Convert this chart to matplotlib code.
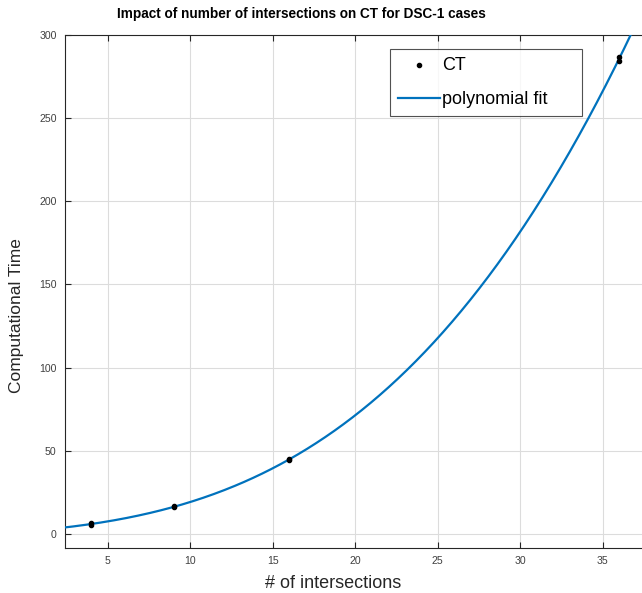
import numpy as np
import matplotlib
matplotlib.use("Agg")
import matplotlib.pyplot as plt

plt.rcParams['font.family'] = ['Liberation Sans', 'DejaVu Sans']

# Measured computational time per number of intersections (repeated runs)
intersections = [4, 4, 9, 9, 16, 16, 36, 36]
comp_time = [5.6, 6.3, 16.0, 16.5, 44.4, 45.2, 287.0, 284.2]

x_ticks = [5, 10, 15, 20, 25, 30, 35]
y_ticks = [0, 50, 100, 150, 200, 250, 300]

W, H = 642, 593
fig = plt.figure(figsize=(W / 100, H / 100), dpi=100)

left, right, top, bottom = 65, 652, 35, 548
ax = fig.add_axes([left / W, (H - bottom) / H, (right - left) / W, (bottom - top) / H])

# cubic least-squares fit through the measurements
coef = np.polyfit(intersections, comp_time, 3)
xs = np.linspace(2.0, 38.5, 400)
ax.plot(xs, np.polyval(coef, xs), color='#0072BD', lw=1.6, label='polynomial fit', zorder=3)
ax.scatter(intersections, comp_time, s=9, color='black', label='CT', zorder=4)

ax.set_xlim(2.4, 38.0)
ax.set_ylim(-8.5, 300)
ax.set_xticks(x_ticks)
ax.set_yticks(y_ticks)

ax.grid(True, color='#dcdcdc', lw=0.8)
ax.set_axisbelow(True)
ax.tick_params(direction='in', length=4, width=0.8, labelsize=7.6, colors='#262626',
               labelcolor='#404040', top=True, right=True, pad=6)
for s in ax.spines.values():
    s.set_color('#262626')
    s.set_linewidth(0.8)

ax.set_xlabel('# of intersections', fontsize=13, color='#262626', va='center', ha='center')
ax.set_ylabel('Computational Time', fontsize=12.5, color='#262626', va='center', ha='center')
ax.xaxis.set_label_coords(333 / W, 1 - 583 / H, transform=fig.transFigure)
ax.yaxis.set_label_coords(16.5 / W, 1 - 316 / H, transform=fig.transFigure)

fig.text(301 / W, 1 - 14 / H, 'Impact of number of intersections on CT for DSC-1 cases',
         ha='center', va='center', fontsize=9.8, fontweight='bold', color='black')

# legend box in figure pixels: x 390..582, y 49..116 from the top
lx0, lx1, ly0, ly1 = 390, 582, 49, 116
handles, labels = ax.get_legend_handles_labels()
leg = ax.legend([handles[1], handles[0]], [labels[1], labels[0]],
                loc='upper left',
                bbox_to_anchor=(lx0 / W, 1 - ly1 / H, (lx1 - lx0) / W, (ly1 - ly0) / H),
                bbox_transform=fig.transFigure, mode='expand',
                fontsize=13, frameon=True, fancybox=False, borderpad=0.45,
                handlelength=2.3, handletextpad=0.15, labelspacing=0.95,
                borderaxespad=0, markerscale=1.0)
leg.get_frame().set_edgecolor('#262626')
leg.get_frame().set_linewidth(0.8)

fig.savefig('out.png', dpi=100)
